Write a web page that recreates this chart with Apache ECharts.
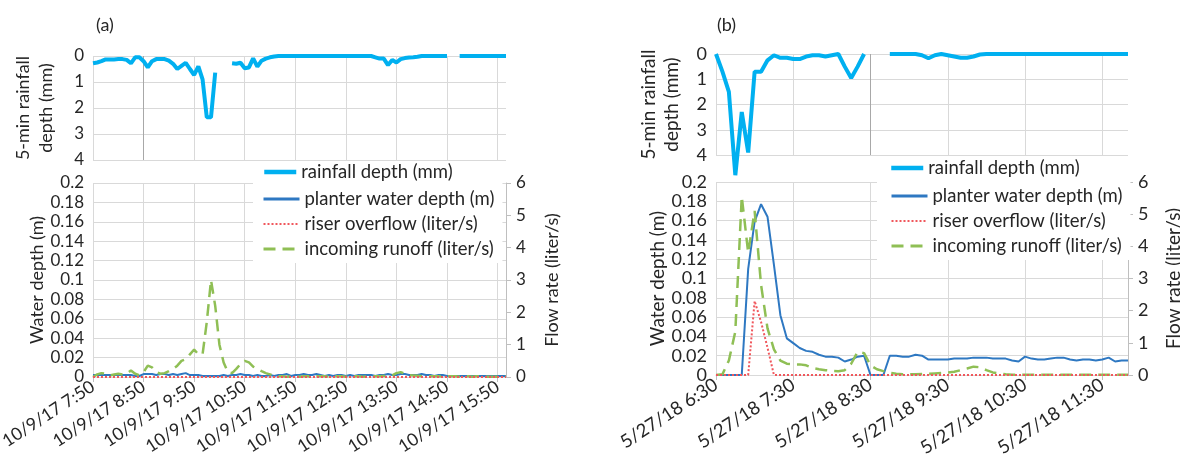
<!DOCTYPE html>
<html lang="en">
  <head>
    <meta charset="UTF-8" />
    <title>Rainfall and planter response</title>
    <script src="https://cdn.jsdelivr.net/npm/echarts@6/dist/echarts.min.js"></script>
    <style>
      html, body { margin: 0; padding: 0; background: #fff; }
    </style>
  </head>
  <body>
    <div id="main" style="width: 1180px; height: 457px"></div>
  </body>
</html>
<script>
  // 5-minute steps, (a) 10/9/17 from 7:50, (b) 5/27/18 from 6:30
  const hourTicksA = ['10/9/17 7:50', '10/9/17 8:50', '10/9/17 9:50', '10/9/17 10:50', '10/9/17 11:50',
    '10/9/17 12:50', '10/9/17 13:50', '10/9/17 14:50', '10/9/17 15:50']
  const hourTicksB = ['5/27/18 6:30', '5/27/18 7:30', '5/27/18 8:30', '5/27/18 9:30', '5/27/18 10:30', '5/27/18 11:30']

  // (a) rainfall depth (mm), 99 steps
  const rainA = [0.28, 0.25, 0.2, 0.13, 0.13, 0.13, 0.12, 0.12, 0.15, 0.28,
    0.05, 0.05, 0.2, 0.44, 0.2, 0.12, 0.12, 0.12, 0.18, 0.3,
    0.5, 0.38, 0.26, 0.5, 0.73, 0.4, 0.9, 2.36, 2.36, 0.64,
    null, null, null, 0.28, 0.3, 0.26, 0.47, 0.44, 0.09, 0.41,
    0.18, 0.1, 0.05, 0.02, 0, 0, 0, 0, 0, 0,
    0, 0, 0, 0, 0, 0, 0, 0, 0, 0,
    0, 0, 0, 0, 0, 0, 0, 0.05, 0.1, 0.1,
    0.35, 0.15, 0.25, 0.12, 0.08, 0.06, 0.05, 0.03, 0, 0,
    0, 0, 0, 0, 0, null, null, 0, 0, 0,
    0, 0, 0, 0, 0, 0, 0, 0, 0]

  // (a) planter water depth (m)
  const depthA = [0.002, 0.002, 0.002, 0.002, 0.002, 0.002, 0.002, 0.002, 0.002, 0.002,
    0.001, 0.001, 0.003, 0.003, 0.003, 0.002, 0.003, 0.003, 0.002, 0.003,
    0.002, 0.003, 0.004, 0.002, 0.002, 0.002, 0.001, 0.001, 0.001, 0.001,
    0.001, 0.002, 0.001, 0.002, 0.002, 0.003, 0.002, 0.002, 0.001, 0.002,
    0.001, 0.001, 0.002, 0.001, 0.002, 0.002, 0.003, 0.001, 0.002, 0.002,
    0.003, 0.002, 0.002, 0.003, 0.002, 0.001, 0.002, 0.001, 0.002, 0.002,
    0.001, 0.002, 0.001, 0.002, 0.002, 0.002, 0.002, 0.001, 0.002, 0.002,
    0.003, 0.002, 0.002, 0.003, 0.003, 0.002, 0.002, 0.002, 0.003, 0.002,
    0.002, 0.001, 0.002, 0.002, 0.001, 0.001, 0.001, 0.001, 0.001, 0.001,
    0.001, 0.001, 0.001, 0.001, 0.001, 0.001, 0.001, 0.001, 0.001]

  // (a) riser overflow (liter/s)
  const riserA = [0, 0, 0, 0, 0, 0, 0, 0, 0, 0,
    0, 0, 0, 0, 0, 0, 0, 0, 0, 0,
    0, 0, 0, 0, 0, 0, 0, 0, 0, 0,
    0, 0, 0, 0, 0, 0, 0, 0, 0, 0,
    0, 0, 0, 0, 0, 0, 0, 0, 0, 0,
    0, 0, 0, 0, 0, 0, 0, 0, 0, 0,
    0, 0, 0, 0, 0, 0, 0, 0, 0, 0,
    0, 0, 0, 0, 0, 0, 0, 0, 0, 0,
    0, 0, 0, 0, 0, 0, 0, 0, 0, 0,
    0, 0, 0, 0, 0, 0, 0, 0, 0]

  // (a) incoming runoff (liter/s)
  const runoffA = [0, 0.08, 0.12, 0.1, 0.05, 0.08, 0.1, 0.08, 0.1, 0.2,
    0.1, 0.05, 0.15, 0.35, 0.3, 0.15, 0.1, 0.12, 0.18, 0.25,
    0.35, 0.5, 0.55, 0.7, 0.85, 0.7, 0.7, 1.7, 3.0, 2.2,
    1.0, 0.45, 0.15, 0.12, 0.25, 0.4, 0.5, 0.45, 0.32, 0.25,
    0.18, 0.12, 0.08, 0.04, 0.02, 0.02, 0.01, 0.02, 0.02, 0.01,
    0.02, 0.02, 0.01, 0.02, 0.02, 0.02, 0.01, 0.02, 0.02, 0.02,
    0.01, 0.02, 0.02, 0.02, 0.01, 0.02, 0.02, 0.02, 0.02, 0.03,
    0.03, 0.05, 0.12, 0.15, 0.1, 0.06, 0.05, 0.04, 0.02, 0.02,
    0.02, 0.02, 0.02, 0.01, 0.02, 0.02, 0.02, 0.01, 0.02, 0.02,
    0.01, 0.02, 0.02, 0.01, 0.01, 0.01, 0.01, 0.01, 0.01]

  // (b) rainfall depth (mm), 65 steps
  const rainB = [0, 0.7, 1.5, 4.8, 2.3, 3.9, 0.7, 0.7, 0.25, 0.05,
    0.15, 0.15, 0.2, 0.2, 0.1, 0.05, 0.05, 0.1, 0.05, 0,
    0.5, 0.95, 0.5, 0, null, null, null, 0, 0, 0,
    0, 0, 0.05, 0.17, 0.05, 0, 0.05, 0.1, 0.15, 0.15,
    0.1, 0.02, 0, 0, 0, 0, 0, 0, 0, 0,
    0, 0, 0, 0, 0, 0, 0, 0, 0, 0,
    0, 0, 0, 0, 0]

  // (b) planter water depth (m)
  const depthB = [0, 0, 0, 0, 0, 0.11, 0.159, 0.177, 0.164, 0.114,
    0.062, 0.038, 0.033, 0.028, 0.025, 0.024, 0.021, 0.019, 0.019, 0.018,
    0.014, 0.016, 0.019, 0.02, 0, 0, 0, 0.02, 0.02, 0.019,
    0.019, 0.021, 0.02, 0.016, 0.016, 0.016, 0.016, 0.017, 0.017, 0.017,
    0.018, 0.018, 0.018, 0.017, 0.017, 0.017, 0.015, 0.014, 0.019, 0.017,
    0.016, 0.016, 0.017, 0.018, 0.018, 0.016, 0.015, 0.016, 0.016, 0.015,
    0.016, 0.018, 0.014, 0.015, 0.015]

  // (b) riser overflow (liter/s)
  const riserB = [0, 0, 0, 0, 0, 0, 2.3, 1.65, 0.85, 0,
    0, 0, 0, 0, 0, 0, 0, 0, 0, 0,
    0, 0, 0, 0, 0, 0, 0, 0, 0, 0,
    0, 0, 0, 0, 0, 0, 0, 0, 0, 0,
    0, 0, 0, 0, 0, 0, 0, 0, 0, 0,
    0, 0, 0, 0, 0, 0, 0, 0, 0, 0,
    0, 0, 0, 0, 0]

  // (b) incoming runoff (liter/s)
  const runoffB = [0, 0.02, 0.45, 1.35, 5.55, 3.8, 5.1, 2.8, 1.45, 0.8,
    0.45, 0.35, 0.33, 0.33, 0.3, 0.22, 0.18, 0.15, 0.13, 0.12,
    0.15, 0.35, 0.72, 0.68, 0.3, 0.18, 0.12, 0.07, 0.04, 0.02,
    0.02, 0.02, 0.03, 0.04, 0.05, 0.06, 0.08, 0.1, 0.15, 0.2,
    0.26, 0.24, 0.15, 0.08, 0.05, 0.02, 0.01, 0.01, 0.01, 0.01,
    0.01, 0.01, 0.01, 0.01, 0.01, 0.01, 0.01, 0.01, 0.01, 0.01,
    0.01, 0.01, 0.01, 0.01, 0.01]

  const FONT = 'Lato'
  const TXT = '#262626'
  const GRID_LINE = '#d9d9d9'
  const DARK_LINE = '#a8a8a8'

  const stepsA = rainA.map((v, i) => i)
  const stepsB = rainB.map((v, i) => i)

  function timeAxis(gridIndex, steps, ticks, showLabels, size, gridColors) {
    return {
      type: 'category',
      gridIndex: gridIndex,
      data: steps,
      boundaryGap: false,
      axisLine: { show: showLabels, lineStyle: { color: GRID_LINE } },
      axisTick: { show: showLabels, interval: 11, length: 5, lineStyle: { color: '#bfbfbf' } },
      axisLabel: {
        show: showLabels,
        interval: 11,
        rotate: 33,
        margin: 8,
        color: TXT,
        fontFamily: FONT,
        fontSize: size,
        formatter: (v, i) => (i % 12 === 0 ? ticks[i / 12] : '')
      },
      splitLine: { show: true, interval: 11, lineStyle: { color: gridColors } }
    }
  }

  function rainAxis(gridIndex, gap, size) {
    return {
      type: 'value',
      gridIndex: gridIndex,
      min: 0,
      max: 4,
      interval: 1,
      inverse: true,
      name: '5-min rainfall\ndepth (mm)',
      nameLocation: 'middle',
      nameRotate: 90,
      nameGap: gap,
      nameTextStyle: { color: TXT, fontFamily: FONT, fontSize: size + 1, lineHeight: 23 },
      axisLine: { show: false },
      axisTick: { show: false },
      axisLabel: { color: TXT, fontFamily: FONT, fontSize: size, margin: 9 },
      splitLine: { lineStyle: { color: GRID_LINE } }
    }
  }

  function depthAxis(gridIndex, gap, size) {
    return {
      type: 'value',
      gridIndex: gridIndex,
      min: 0,
      max: 0.2,
      interval: 0.02,
      name: 'Water depth (m)',
      nameLocation: 'middle',
      nameRotate: 90,
      nameGap: gap,
      nameTextStyle: { color: TXT, fontFamily: FONT, fontSize: size + 1 },
      axisLine: { show: false },
      axisTick: { show: false },
      axisLabel: { color: TXT, fontFamily: FONT, fontSize: size, margin: 9 },
      splitLine: { lineStyle: { color: GRID_LINE } }
    }
  }

  function flowAxis(gridIndex, gap, size) {
    return {
      type: 'value',
      gridIndex: gridIndex,
      position: 'right',
      min: 0,
      max: 6,
      interval: 1,
      name: 'Flow rate (liter/s)',
      nameLocation: 'middle',
      nameRotate: 90,
      nameGap: gap,
      nameTextStyle: { color: TXT, fontFamily: FONT, fontSize: size + 1 },
      axisLine: { show: true, lineStyle: { color: '#bfbfbf' } },
      axisTick: { show: true, length: 5, lineStyle: { color: '#bfbfbf' } },
      axisLabel: { color: TXT, fontFamily: FONT, fontSize: size, margin: 10 },
      splitLine: { show: false }
    }
  }

  const RAIN_COLOR = '#00b0f0'
  const DEPTH_COLOR = '#2e78c2'
  const RISER_COLOR = '#f0575c'
  const RUNOFF_COLOR = '#8fbf55'

  function rainSeries(x, y, data) {
    return {
      name: 'rainfall depth (mm)', type: 'line', xAxisIndex: x, yAxisIndex: y, data: data,
      symbol: 'none', connectNulls: false, clip: false, z: 3,
      lineStyle: { color: RAIN_COLOR, width: 4 }, itemStyle: { color: RAIN_COLOR }
    }
  }
  function depthSeries(x, y, data) {
    return {
      name: 'planter water depth (m)', type: 'line', xAxisIndex: x, yAxisIndex: y, data: data,
      symbol: 'none', z: 3,
      lineStyle: { color: DEPTH_COLOR, width: 2 }, itemStyle: { color: DEPTH_COLOR }
    }
  }
  function riserSeries(x, y, data) {
    return {
      name: 'riser overflow (liter/s)', type: 'line', xAxisIndex: x, yAxisIndex: y, data: data,
      symbol: 'none', z: 4,
      lineStyle: { color: RISER_COLOR, width: 2, type: [2, 2] }, itemStyle: { color: RISER_COLOR }
    }
  }
  function runoffSeries(x, y, data) {
    return {
      name: 'incoming runoff (liter/s)', type: 'line', xAxisIndex: x, yAxisIndex: y, data: data,
      symbol: 'none', z: 3,
      lineStyle: { color: RUNOFF_COLOR, width: 2.5, type: [12, 7] }, itemStyle: { color: RUNOFF_COLOR }
    }
  }

  const legendText = { color: TXT, fontFamily: FONT, fontSize: 18.5, lineHeight: 20 }
  const legendSymbol = { opacity: 0 }
  const rainLegend = [{ name: 'rainfall depth (mm)', lineStyle: { width: 4.5, color: RAIN_COLOR } }]
  const bottomLegend = [
    { name: 'planter water depth (m)', lineStyle: { width: 3, color: DEPTH_COLOR } },
    { name: 'riser overflow (liter/s)', lineStyle: { width: 2, color: RISER_COLOR, type: [2, 2] } },
    { name: 'incoming runoff (liter/s)', lineStyle: { width: 3, color: RUNOFF_COLOR, type: [12, 7] } }
  ]

  // the second hour line of (a) and third of (b) are drawn darker in the original
  const gridColorsA = [GRID_LINE, DARK_LINE, GRID_LINE, GRID_LINE, GRID_LINE, GRID_LINE, GRID_LINE, GRID_LINE, GRID_LINE]
  const gridColorsB = [GRID_LINE, GRID_LINE, DARK_LINE, GRID_LINE, GRID_LINE, GRID_LINE]

  const chartInstance = echarts.init(document.getElementById('main'))

  const option = {
    animation: false,
    backgroundColor: '#fff',
    title: [
      { text: '(a)', left: 91, top: 11, textStyle: { color: TXT, fontFamily: FONT, fontSize: 18, fontWeight: 'normal' } },
      { text: '(b)', left: 712, top: 11, textStyle: { color: TXT, fontFamily: FONT, fontSize: 18, fontWeight: 'normal' } }
    ],
    legend: [
      { data: rainLegend, left: 262, top: 162, itemWidth: 32, itemHeight: 14, selectedMode: false, itemStyle: legendSymbol, textStyle: legendText, padding: 0 },
      { data: rainLegend, left: 889, top: 158, itemWidth: 32, itemHeight: 14, selectedMode: false, itemStyle: legendSymbol, textStyle: legendText, padding: 0 },
      {
        data: bottomLegend, orient: 'vertical', left: 253, top: 183, itemWidth: 36, itemHeight: 14, itemGap: 5,
        selectedMode: false, itemStyle: legendSymbol, backgroundColor: '#fff', padding: [6, 8, 4, 9], textStyle: legendText
      },
      {
        data: bottomLegend, orient: 'vertical', left: 877, top: 180, itemWidth: 36, itemHeight: 14, itemGap: 5,
        selectedMode: false, itemStyle: legendSymbol, backgroundColor: '#fff', padding: [6, 8, 4, 13], textStyle: legendText
      }
    ],
    grid: [
      { left: 93, top: 56, width: 413, height: 104, outerBoundsMode: 'none' },
      { left: 93, top: 183, width: 413, height: 194, outerBoundsMode: 'none' },
      { left: 716, top: 54, width: 412, height: 101, outerBoundsMode: 'none' },
      { left: 716, top: 182, width: 412, height: 193, outerBoundsMode: 'none' }
    ],
    xAxis: [
      timeAxis(0, stepsA, hourTicksA, false, 17.5, gridColorsA),
      timeAxis(1, stepsA, hourTicksA, true, 17.5, [GRID_LINE]),
      timeAxis(2, stepsB, hourTicksB, false, 18.5, gridColorsB),
      timeAxis(3, stepsB, hourTicksB, true, 18.5, [GRID_LINE])
    ],
    yAxis: [
      rainAxis(0, 35, 17),
      depthAxis(1, 47, 17),
      flowAxis(1, 37, 17),
      rainAxis(2, 33, 18),
      depthAxis(3, 49, 18),
      flowAxis(3, 36, 18)
    ],
    series: [
      rainSeries(0, 0, rainA),
      depthSeries(1, 1, depthA),
      riserSeries(1, 2, riserA),
      runoffSeries(1, 2, runoffA),
      rainSeries(2, 3, rainB),
      depthSeries(3, 4, depthB),
      riserSeries(3, 5, riserB),
      runoffSeries(3, 5, runoffB)
    ]
  }

  chartInstance.setOption(option)

  window.addEventListener('resize', () => {
    chartInstance.resize()
  })
</script>
